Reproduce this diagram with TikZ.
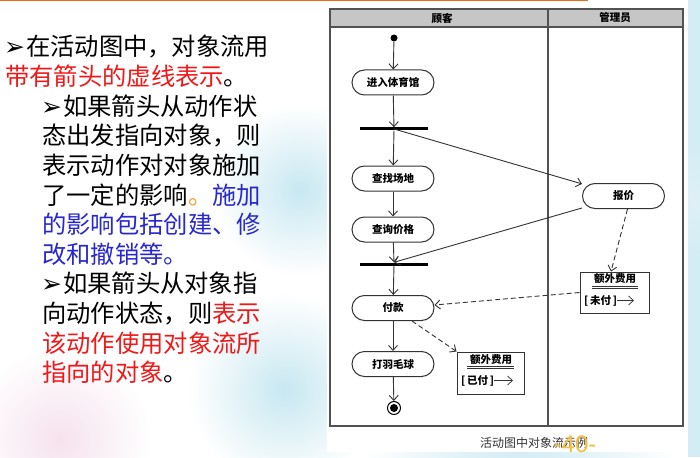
\documentclass[tikz,border=0pt]{standalone}
\usepackage{fontspec}
\setmainfont{Liberation Serif}
\newfontfamily\cjk{Noto Sans CJK SC}
\newfontfamily\dejavu{DejaVu Sans}
\newfontfamily\arialf{Liberation Sans}
\usetikzlibrary{arrows.meta,calc,fadings}
\definecolor{myred}{HTML}{F01818}
\definecolor{myblue}{HTML}{2828D0}
\definecolor{myorange}{HTML}{F0A030}
\definecolor{dline}{HTML}{333333}
\definecolor{hdr}{HTML}{C6C6C6}
\definecolor{topline}{HTML}{F06A1A}
\definecolor{pgold}{HTML}{F2C040}
\definecolor{bgcyan}{HTML}{C8E8F2}
\definecolor{bgpink}{HTML}{F6E2EE}
\definecolor{capgray}{HTML}{333333}
\tikzfading[name=blobfade, inner color=transparent!0, outer color=transparent!100]
\newcommand{\bul}{{\dejavu\fontsize{25}{25}\selectfont ➢}\hspace{1pt}}
\begin{document}
\begin{tikzpicture}[x=1pt,y=-1pt,
  txt/.style={inner sep=0pt, anchor=base west, font=\cjk\fontsize{24.3}{24}\selectfont},
  act/.style={draw=dline, line width=1pt, rounded corners=12.5pt, minimum width=82pt, minimum height=25pt, inner sep=0pt, fill=white, font=\cjk\fontsize{10.5}{12}\selectfont\bfseries},
  bar/.style={fill=black, minimum width=68pt, minimum height=3pt, inner sep=0pt},
  initst/.style={circle, fill=black, minimum size=7pt, inner sep=0pt},
  finalst/.style={circle, draw=black, line width=1pt, minimum size=13pt, inner sep=0pt},
  objbox/.style={draw=dline, line width=1pt, fill=white, inner sep=0pt},
  otext/.style={inner sep=0pt, font=\cjk\fontsize{10.5}{12}\selectfont\bfseries},
  flow/.style={draw=dline, line width=0.9pt, -{Straight Barb[length=5pt,width=9pt]}},
  oflow/.style={flow, dash pattern=on 5pt off 3pt},
  lane/.style={draw=dline!85, line width=1.3pt}
]
\useasboundingbox (0,0) rectangle (700,457);
% background
\fill[white] (0,0) rectangle (700,457);
\fill[bgcyan, path fading=blobfade] (300,190) circle (85);
\fill[bgcyan, path fading=blobfade] (285,390) circle (95);
\fill[bgpink, path fading=blobfade] (60,440) circle (90);
\fill[bgcyan, path fading=blobfade] (520,500) circle (160);
\fill[bgcyan!80!white] (688,0) rectangle (700,457);
\fill[bgcyan!60!white, path fading=blobfade] (700,200) circle (60);
% diagram image background
\fill[white] (327,4) rectangle (688,452);
\fill[topline] (0,0) rectangle (588,1.5);

% left text
\node[txt] (l1) at (4,56) {\bul 在活动图中，对象流用};
\node[txt] (l2) at (5,85.6) {\textcolor{myred}{带有箭头的虚线表示}。};
\node[txt] (l3) at (41,115.2) {\bul 如果箭头从动作状};
\node[txt] (l4) at (42,144.8) {态出发指向对象，则};
\node[txt] (l5) at (42,174.4) {表示动作对对象施加};
\node[txt] (l6) at (42,204) {了一定的影响\textcolor{myorange}{。}\textcolor{myblue}{施加}};
\node[txt, text=myblue] (l7) at (42,233.6) {的影响包括创建、修};
\node[txt, text=myblue] (l8) at (42,263.2) {改和撤销等。};
\node[txt] (l9) at (41,292.8) {\bul 如果箭头从对象指};
\node[txt] (l10) at (42,322.4) {向动作状态，则\textcolor{myred}{表示}};
\node[txt, text=myred] (l11) at (42,352) {该动作使用对象流所};
\node[txt] (l12) at (42,381.6) {\textcolor{myred}{指向的对象}。};

% swimlane frame
\fill[hdr] (330,9) rectangle (683,27);
\draw[lane] (330,9) rectangle (683,426);
\draw[lane] (330,27) -- (683,27);
\draw[lane] (548,9) -- (548,426);
\node[otext] (h1) at (442,18) {顾客};
\node[otext] (h2) at (615,18) {管理员};

% nodes
\node[initst] (start) at (394,38) {};
\node[act] (a1) at (393,82.5) {进入体育馆};
\node[bar] (b1) at (394,129) {};
\node[act] (a2) at (393,178.5) {查找场地};
\node[act] (a3) at (393,229.5) {查询价格};
\node[bar] (b2) at (394,264) {};
\node[act] (a4) at (393,308) {付款};
\node[act] (a5) at (393,364) {打羽毛球};
\node[finalst] (end) at (394,408) {};
\fill[black] (end.center) circle (4);
\node[act] (a6) at (623.5,196) {报价};

% object nodes
\node[objbox, minimum width=69pt, minimum height=41pt] (o1) at (614.5,292.5) {};
\node[otext] (o1t) at (615,278.5) {额外费用};
\draw[dline, line width=0.7pt] (592,286.5) -- (638,286.5) (592,288.8) -- (638,288.8);
\node[otext, anchor=west] (o1s) at (584,300.5) {[\,未付\,]};
\coordinate (o1e) at (634,300.5);
\draw[flow, line width=0.7pt] (o1s.east) -- (o1e);

\node[objbox, minimum width=67pt, minimum height=42pt] (o2) at (490.5,373) {};
\node[otext] (o2t) at (491,360) {额外费用};
\draw[dline, line width=0.7pt] (467,366.5) -- (514,366.5) (467,368.8) -- (514,368.8);
\node[otext, anchor=west] (o2s) at (461,380.5) {[\,已付\,]};
\coordinate (o2e) at (513,380.5);
\draw[flow, line width=0.7pt] (o2s.east) -- (o2e);

% control flows
\draw[flow] (start) -- (a1);
\draw[flow] (a1) -- (b1);
\draw[flow] (b1) -- (a2);
\draw[flow] (a2) -- (a3);
\draw[flow] (a3) -- (b2);
\draw[flow] (b2) -- (a4);
\draw[flow] (a4) -- (a5);
\draw[flow] (a5) -- (end);
\draw[flow] (b1.center) -- (a6);
\draw[flow] (a6) -- (b2.north);

% object flows
\draw[oflow] ($(a6.south)+(4,0)$) -- ($(o1.north)+(-3.5,0)$);
\draw[oflow] (o1.west) -- ($(a4.east)+(0,-3)$);
\draw[oflow] ($(a4.south)+(19,0)$) -- (o2.north west);

% caption
\node[inner sep=0pt, text=capgray, font=\cjk\fontsize{12}{12}\selectfont] (cap) at (534,443) {活动图中对象流示例};
\node[inner sep=0pt, text=pgold, font=\arialf\fontsize{24}{24}\selectfont] (pg) at (575,444.5) {-40-};
\end{tikzpicture}
\end{document}
